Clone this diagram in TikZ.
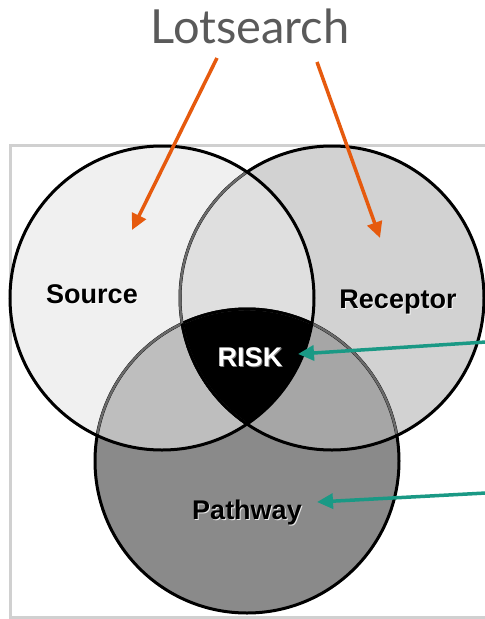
\documentclass[tikz,border=0pt]{standalone}
\usepackage{fontspec}
\setmainfont{Liberation Sans}
\newfontfamily\latofont{Lato}
\usetikzlibrary{arrows.meta}
\definecolor{cS}{HTML}{F0F0F0}
\definecolor{cR}{HTML}{D2D2D2}
\definecolor{cSR}{HTML}{DFDFDF}
\definecolor{cP}{HTML}{8A8A8A}
\definecolor{cSP}{HTML}{BEBEBE}
\definecolor{cRP}{HTML}{A6A6A6}
\definecolor{edgegray}{HTML}{6A6A6A}
\definecolor{framegray}{HTML}{D0D0D0}
\definecolor{titlegray}{HTML}{5A5A5A}
\definecolor{arrorange}{HTML}{E65A0E}
\definecolor{arrteal}{HTML}{1A9985}
\tikzset{
  blackedge/.style={draw=black, line width=3pt},
  grayedge/.style={draw=edgegray, line width=2.4pt},
  lbl/.style={font=\bfseries\fontsize{27}{27}\selectfont, inner sep=0pt},
  orangearrow/.style={draw=arrorange, line width=3.5pt, -{Triangle[length=16pt,width=15pt]}},
  tealarrow/.style={draw=arrteal, line width=3.5pt, -{Triangle[length=16pt,width=15pt]}},
}
\begin{document}
\begin{tikzpicture}[x=1pt,y=-1pt]
\useasboundingbox (0,0) rectangle (485,619);
\fill[white] (0,0) rectangle (485,619);
% frame
\draw[framegray, line width=3pt] (500,145) -- (10,145) -- (10,617) -- (500,617);
% circle geometry
\def\rr{152}
\coordinate (cs) at (162,298);
\coordinate (cr) at (332,298);
\coordinate (cp) at (247,461);
% fills
\fill[cS] (cs) circle (\rr);
\fill[cR] (cr) circle (\rr);
\begin{scope}\clip (cr) circle (\rr); \fill[cSR] (cs) circle (\rr);\end{scope}
\fill[cP] (cp) circle (\rr);
\begin{scope}\clip (cp) circle (\rr); \fill[cSP] (cs) circle (\rr);\end{scope}
\begin{scope}\clip (cp) circle (\rr); \fill[cRP] (cr) circle (\rr);\end{scope}
\begin{scope}\clip (cp) circle (\rr); \clip (cr) circle (\rr); \fill[black] (cs) circle (\rr);\end{scope}
% outlines
\draw[blackedge] (cp) circle (\rr);
\begin{scope}\clip (cs) circle (\rr); \draw[grayedge] (cp) circle (\rr);\end{scope}
\begin{scope}\clip (cr) circle (\rr); \draw[grayedge] (cp) circle (\rr);\end{scope}
\begin{scope}\clip (cs) circle (\rr); \clip (cr) circle (\rr); \draw[blackedge] (cp) circle (\rr);\end{scope}
\draw[blackedge] (cr) circle (\rr);
\begin{scope}\clip (cs) circle (\rr); \draw[grayedge] (cr) circle (\rr);\end{scope}
\begin{scope}\clip (cs) circle (\rr); \clip (cp) circle (\rr); \draw[blackedge] (cr) circle (\rr);\end{scope}
\draw[blackedge] (cs) circle (\rr);
% labels
\node[lbl, white, opacity=0.8] at (93,295) {Source};
\node[lbl] (src) at (92,294) {Source};
\node[lbl, white, opacity=0.8] at (399,303) {Receptor};
\node[lbl] (rec) at (398,302) {Receptor};
\node[lbl, gray] at (251,358) {RISK};
\node[lbl, white] (risk) at (250,357) {RISK};
\node[lbl, white, opacity=0.8] at (248,514) {Pathway};
\node[lbl] (path) at (247,513) {Pathway};
% title
\node[font=\latofont\fontsize{47}{47}\selectfont, text=titlegray, inner sep=0pt] (title) at (250,26) {Lotsearch};
% arrows
\coordinate (o1s) at (217,58);
\coordinate (o1e) at (132,230);
\coordinate (o2s) at (317,62);
\coordinate (o2e) at (380,238);
\coordinate (t1s) at (486,342);
\coordinate (t1e) at (298,354);
\coordinate (t2s) at (486,493);
\coordinate (t2e) at (317,502);
\draw[orangearrow] (o1s) -- (o1e);
\draw[orangearrow] (o2s) -- (o2e);
\draw[tealarrow] (t1s) -- (t1e);
\draw[tealarrow] (t2s) -- (t2e);
\end{tikzpicture}
\end{document}
